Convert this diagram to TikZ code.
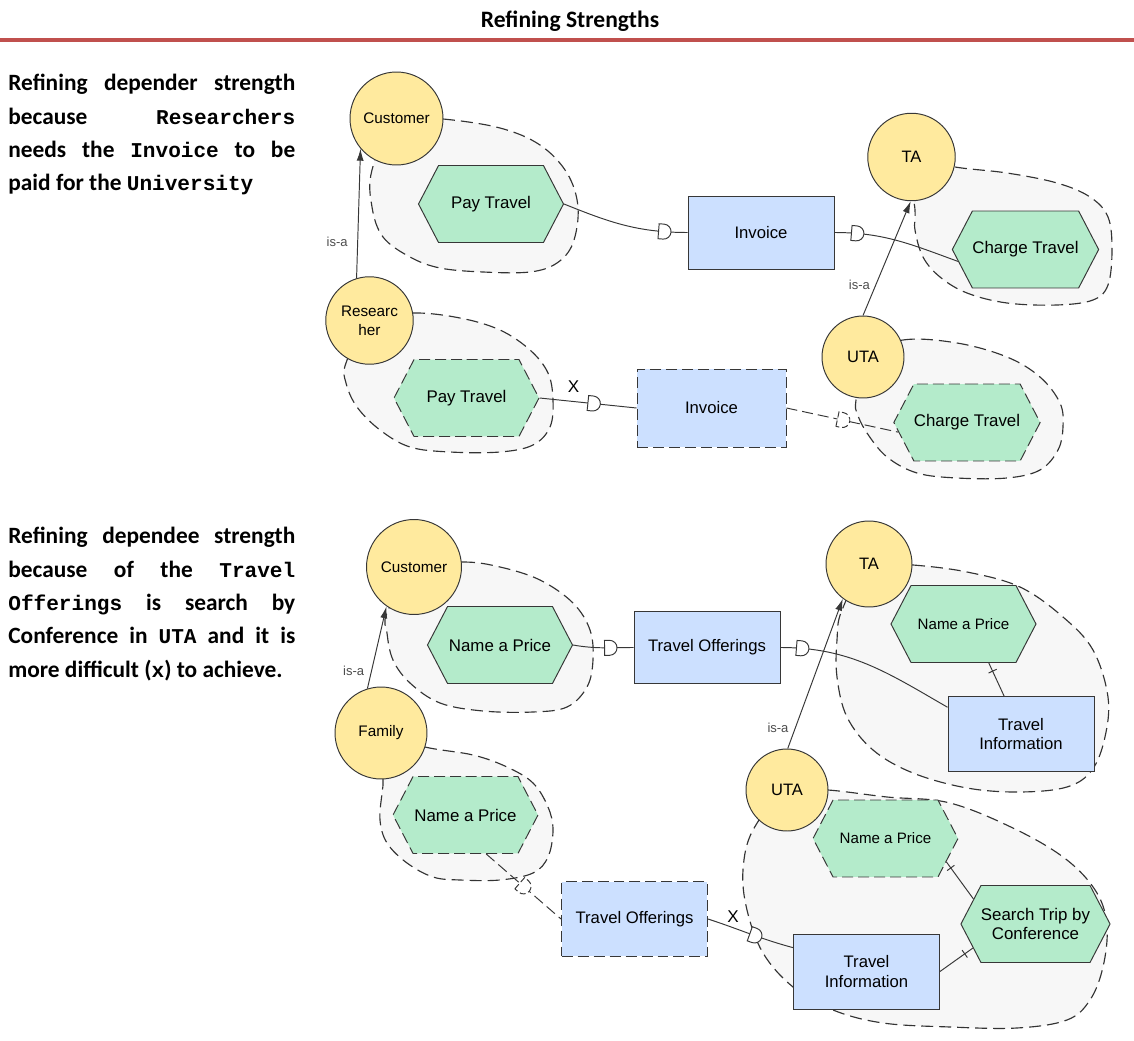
\documentclass[tikz,border=0pt]{standalone}
\usepackage{fontspec}
\setmainfont{Carlito}
\newfontfamily\codefont{Liberation Mono}
\newfontfamily\diafont{Liberation Sans}
\usetikzlibrary{arrows.meta,shapes.symbols,positioning,calc,decorations.markings,backgrounds}
\definecolor{actorfill}{RGB}{255,234,158}
\definecolor{goalfill}{RGB}{180,235,203}
\definecolor{resfill}{RGB}{204,224,255}
\definecolor{bndfill}{RGB}{247,247,247}
\definecolor{linecol}{RGB}{55,55,55}
\definecolor{rulered}{RGB}{192,80,77}
\newcommand{\code}[1]{{\codefont\bfseries\fontsize{12}{19}\selectfont #1}}

\begin{document}
\begin{tikzpicture}[x=0.02cm, y=-0.02cm,
    actor/.style={circle, draw=linecol, fill=actorfill, line width=0.55pt, minimum size=1.8cm, inner sep=0pt, align=center, font=\diafont\fontsize{8.7}{10.8}\selectfont},
    bigactor/.style={actor, font=\diafont\fontsize{9.4}{11}\selectfont},
    goal/.style={signal, signal to=west and east, signal pointer angle=125, draw=linecol, fill=goalfill, line width=0.55pt, minimum width=2.9cm, minimum height=1.54cm, inner sep=0pt, align=center, font=\diafont\fontsize{9.6}{11.3}\selectfont},
    smallgoal/.style={goal, font=\diafont\fontsize{8.6}{10}\selectfont},
    resource/.style={rectangle, draw=linecol, fill=resfill, line width=0.55pt, minimum width=2.92cm, minimum height=1.5cm, inner sep=0pt, align=center, font=\diafont\fontsize{9.5}{11}\selectfont},
    soft/.style={dash pattern=on 0.22cm off 0.1cm},
    bnd/.style={draw=black!80, fill=bndfill, line width=0.65pt, dash pattern=on 0.24cm off 0.12cm},
    dline/.style={draw=linecol, line width=0.55pt},
    isa/.style={-{Latex[length=0.24cm,width=0.14cm]}, draw=linecol, line width=0.55pt},
    isalab/.style={font=\diafont\fontsize{7.4}{8}\selectfont, text=black!70, inner sep=0pt},
    xlab/.style={font=\diafont\fontsize{9.7}{10}\selectfont, inner sep=0pt},
    note/.style={anchor=north west, text width=5.74cm, align=justify, inner sep=0pt, font=\bfseries\fontsize{13.3}{19}\selectfont},
    dep/.style={postaction={decorate, decoration={markings, mark=at position #1 with {\draw[solid, fill=white, draw=linecol, line width=0.55pt] (-0.1cm,-0.15cm) -- (-0.1cm,0.15cm) -- (0cm,0.15cm) arc[start angle=90, end angle=-90, radius=0.15cm] -- cycle;}}}},
    ddep/.style={postaction={decorate, decoration={markings, mark=at position #1 with {\draw[dash pattern=on 0.12cm off 0.06cm, fill=white, draw=linecol, line width=0.55pt] (-0.1cm,-0.15cm) -- (-0.1cm,0.15cm) -- (0cm,0.15cm) arc[start angle=90, end angle=-90, radius=0.15cm] -- cycle;}}}},
    decomp/.style={postaction={decorate, decoration={markings, mark=at position #1 with {\draw[solid, draw=linecol, line width=0.55pt] (0cm,-0.09cm) -- (0cm,0.09cm);}}}}
]
\useasboundingbox (0,0) rectangle (1134,1041);

\node[font=\bfseries\fontsize{13.4}{16}\selectfont, anchor=base, inner sep=0pt] (title) at (570,28) {Refining Strengths};
\draw[rulered, line width=0.08cm] (0,40) -- (1134,40);

\node[note] (note1) at (8,74) {Refining depender strength\linebreak because \code{Researchers}\linebreak needs the \code{Invoice} to be\linebreak paid for the \code{University}};
\node[note] (note2) at (8,527) {Refining dependee strength\linebreak because of the \code{Travel}\linebreak \code{Offerings} is search by\linebreak Conference in \code{UTA} and it is\linebreak more difficult (\code{x}) to achieve.};

\node[actor, minimum size=1.86cm] (cust1) at (396.5,118.5) {Customer};
\node[actor, minimum size=1.75cm] (rsch) at (369.5,320.5) {Researc\\her};
\node[goal] (pay1) at (491,204) {Pay Travel};
\node[goal, soft] (pay2) at (466.5,398) {Pay Travel};
\node[resource, minimum height=1.46cm] (inv1) at (761,232.5) {Invoice};
\node[resource, soft, minimum width=2.98cm, minimum height=1.56cm] (inv2) at (711.5,408) {Invoice};
\node[bigactor, minimum size=1.75cm] (ta1) at (911.5,157) {TA};
\node[bigactor, minimum size=1.64cm] (uta1) at (863,357) {UTA};
\node[goal] (chg1) at (1025.5,249.5) {Charge Travel};
\node[goal, soft] (chg2) at (967,422.5) {Charge Travel};

\node[actor, minimum size=1.9cm] (cust2) at (414,567) {Customer};
\node[actor, minimum size=1.84cm] (fam) at (381,733) {Family};
\node[goal] (nap1) at (500,645) {Name a Price};
\node[goal, soft] (nap2) at (465.5,815) {Name a Price};
\node[resource, minimum height=1.44cm] (off1) at (707,647.5) {Travel Offerings};
\node[resource, soft] (off2) at (634.5,919) {Travel Offerings};
\node[bigactor, minimum size=1.72cm] (ta2) at (869,564) {TA};
\node[bigactor, minimum size=1.64cm] (uta2) at (787,790) {UTA};
\node[smallgoal] (nap3) at (963.5,624) {Name a Price};
\node[resource] (info1) at (1021,734) {Travel\\Information};
\node[smallgoal, soft] (nap4) at (885.5,838.5) {Name a Price};
\node[goal] (srch) at (1035.5,924) {Search Trip by\\Conference};
\node[resource] (info2) at (866.5,971.5) {Travel\\Information};

\draw[dline, dep=-0.48cm] (pay1.east) to[out=-22, in=180] (inv1.west);
\draw[dline, dep=0.44cm] (inv1.east) to[out=0, in=160] (chg1.190);
\draw[dline, dep=0.55] (pay2.east) -- node[xlab, pos=0.35, above=0.17cm] {X} (inv2.west);
\draw[dline, soft, ddep=0.5] (inv2.east) -- (chg2.188);
\draw[isa] (rsch.107) -- node[isalab, pos=0.28, left=0.19cm] {is-a} (cust1.220);
\draw[isa] (uta1.90) -- node[isalab, pos=0.27, left=0.11cm] {is-a} (ta1.269);

\draw[dline, dep=-0.48cm] (nap1.east) to[out=-10, in=180] (off1.west);
\draw[dline, dep=0.42cm] (off1.east) to[out=0, in=150] (info1.160);
\draw[dline, soft, ddep=0.5] (nap2.-62) -- (off2.west);
\draw[dline, dep=0.55] (off2.east) to[out=-18, in=165] node[xlab, pos=0.28, above=0.1cm] {X} (info2.162);
\draw[isa] (fam.107) -- node[isalab, pos=0.22, left=0.14cm] {is-a} (cust2.235);
\draw[isa] (uta2.89) -- node[isalab, pos=0.14, left=0.13cm] {is-a} (ta2.233);
\draw[dline, decomp=-0.18cm] (info1.114) -- (nap3.-57);
\draw[dline, decomp=-0.15cm] (srch.158) -- (nap4.-21);
\draw[dline, decomp=-0.2cm] (info2.east) -- (srch.201);

\begin{scope}[on background layer]
\draw[bnd] plot[smooth cycle, tension=0.6] coordinates {(396,118) (443,119) (500,128) (540,145) (567,173) (578,207) (573,243) (557,263) (530,272) (483,272) (440,268) (410,257) (383,237) (372,207) (372,170)};
\draw[bnd] plot[smooth cycle, tension=0.6] coordinates {(369,320) (413,313) (460,318) (500,330) (530,350) (548,373) (553,400) (550,427) (533,445) (500,452) (450,452) (410,447) (380,430) (357,407) (346,383) (346,363)};
\draw[bnd] plot[smooth cycle, tension=0.6] coordinates {(911,157) (955,167) (1007,173) (1057,183) (1090,197) (1108,217) (1112,250) (1108,285) (1093,300) (1057,305) (1007,303) (967,293) (940,277) (923,257) (915,230) (915,210)};
\draw[bnd] plot[smooth cycle, tension=0.6] coordinates {(863,357) (903,340) (957,343) (1007,357) (1040,377) (1060,403) (1063,427) (1058,450) (1040,470) (1007,478) (957,478) (917,473) (887,457) (867,433) (857,413) (856,400)};
\draw[bnd] plot[smooth cycle, tension=0.6] coordinates {(414,567) (463,562) (500,567) (540,580) (573,603) (590,630) (593,660) (587,687) (567,707) (533,712) (483,711) (440,703) (410,683) (393,660) (387,633) (387,613)};
\draw[bnd] plot[smooth cycle, tension=0.6] coordinates {(869,564) (913,565) (967,572) (1020,587) (1063,617) (1093,650) (1108,697) (1105,737) (1092,770) (1067,787) (1020,792) (967,788) (913,773) (873,750) (847,717) (837,677) (837,640) (842,610)};
\draw[bnd] plot[smooth cycle, tension=0.6] coordinates {(381,733) (425,747) (473,755) (507,767) (533,783) (548,807) (553,830) (548,857) (533,873) (500,880) (460,880) (433,877) (407,863) (387,843) (380,820) (382,793) (383,780)};
\draw[bnd] plot[smooth cycle, tension=0.6] coordinates {(787,790) (828,790) (887,797) (950,803) (1017,830) (1067,860) (1097,893) (1107,927) (1103,967) (1090,1000) (1067,1020) (1017,1028) (950,1027) (883,1023) (833,1010) (793,987) (763,953) (747,910) (743,870) (753,830)};
\end{scope}
\end{tikzpicture}
\end{document}
